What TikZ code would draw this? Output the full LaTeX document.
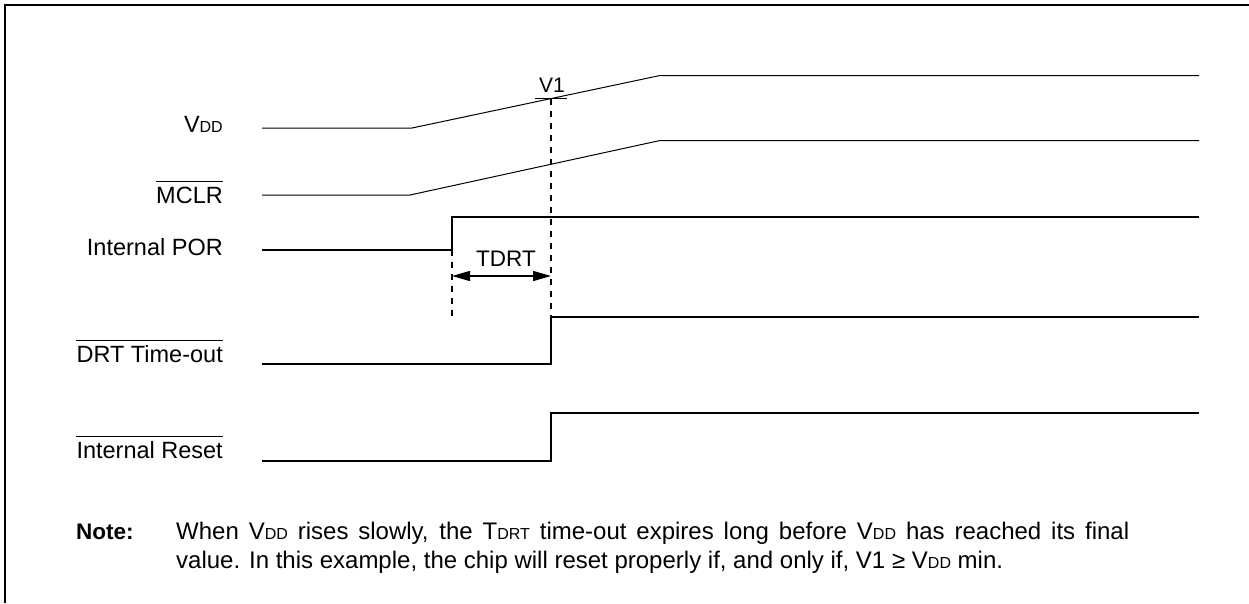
\documentclass[tikz,border=0pt]{standalone}
\usepackage{fontspec}
\setmainfont{Liberation Sans}
\usetikzlibrary{arrows.meta}

\newcommand{\sml}[1]{{\fontsize{16}{18}\selectfont #1}}
\tikzset{
  sig/.style={line width=1.6pt},
  ramp/.style={line width=1pt},
  lbl/.style={anchor=base east, inner sep=0pt, font=\fontsize{23.5}{28}\selectfont},
  notetext/.style={anchor=base west, inner sep=0pt, font=\fontsize{24}{28}\selectfont},
  guide/.style={line width=1.3pt, dash pattern=on 6pt off 6pt},
  bar/.style={line width=1pt},
}

\begin{document}
\begin{tikzpicture}[x=1pt,y=-1pt]
    \useasboundingbox (0,0) rectangle (1249,603);
    % frame
    \draw[line width=1.5pt] (5,603) -- (5,5) -- (1249,5);

    % signal names
    \node[lbl] (vdd) at (223,132) {V\sml{DD}};
    \node[lbl] (mclr) at (223,203) {MCLR};
    \node[lbl] (por) at (223,255) {Internal POR};
    \node[lbl] (drt) at (223,362) {DRT Time-out};
    \node[lbl] (rst) at (223,458) {Internal Reset};
    \foreach \n in {mclr,drt,rst}
        \draw[bar] ([yshift=4.5pt]\n.north west) -- ([yshift=4.5pt]\n.north east);

    % traces
    \draw[ramp] (262,128) -- (412,128) coordinate (vddA) -- (660,75.5) coordinate (vddB) -- (1199,75.5);
    \draw[ramp] (262,195) -- (410,195) -- (660,140.5) -- (1199,140.5);
    \draw[sig] (262,250) -- (452,250) coordinate (porlo) -- (452,217) -- (1199,217);
    \draw[sig] (262,364) -- (551,364) -- (551,317) coordinate (drthi) -- (1199,317);
    \draw[sig] (262,461) -- (551,461) -- (551,413) -- (1199,413);

    % V1 point and guides
    \coordinate (v1) at (551,98.5);
    \draw[line width=1.5pt] ([xshift=-16pt]v1) -- ([xshift=16pt]v1);
    \node[anchor=base, inner sep=0pt, font=\fontsize{21}{24}\selectfont] (v1lbl) at (552,92) {V1};
    \draw[guide] (v1) -- (drthi);
    \draw[guide] (porlo) -- (porlo |- drthi);

    % TDRT
    \coordinate (tA) at (452,276);
    \coordinate (tB) at (551,276);
    \draw[{Triangle[length=18pt,width=10pt]}-{Triangle[length=18pt,width=10pt]}, line width=1.3pt] (tA) -- (tB);
    \node[anchor=base, inner sep=0pt, font=\fontsize{22.5}{26}\selectfont] (tdrt) at (506,266) {TDRT};

    % note
    \node[notetext, font=\fontsize{22.5}{28}\selectfont\bfseries] (notehd) at (76,539) {Note:};
    \node[notetext] (notea) at (176,539) {\hbox to 953pt{When V\sml{DD} rises slowly, the T\sml{DRT} time-out expires long before V\sml{DD} has reached its final}};
    \node[notetext] (noteb) at (176,568) {value. In this example, the chip will reset properly if, and only if, V1 ≥ V\sml{DD} min.};
\end{tikzpicture}
\end{document}
